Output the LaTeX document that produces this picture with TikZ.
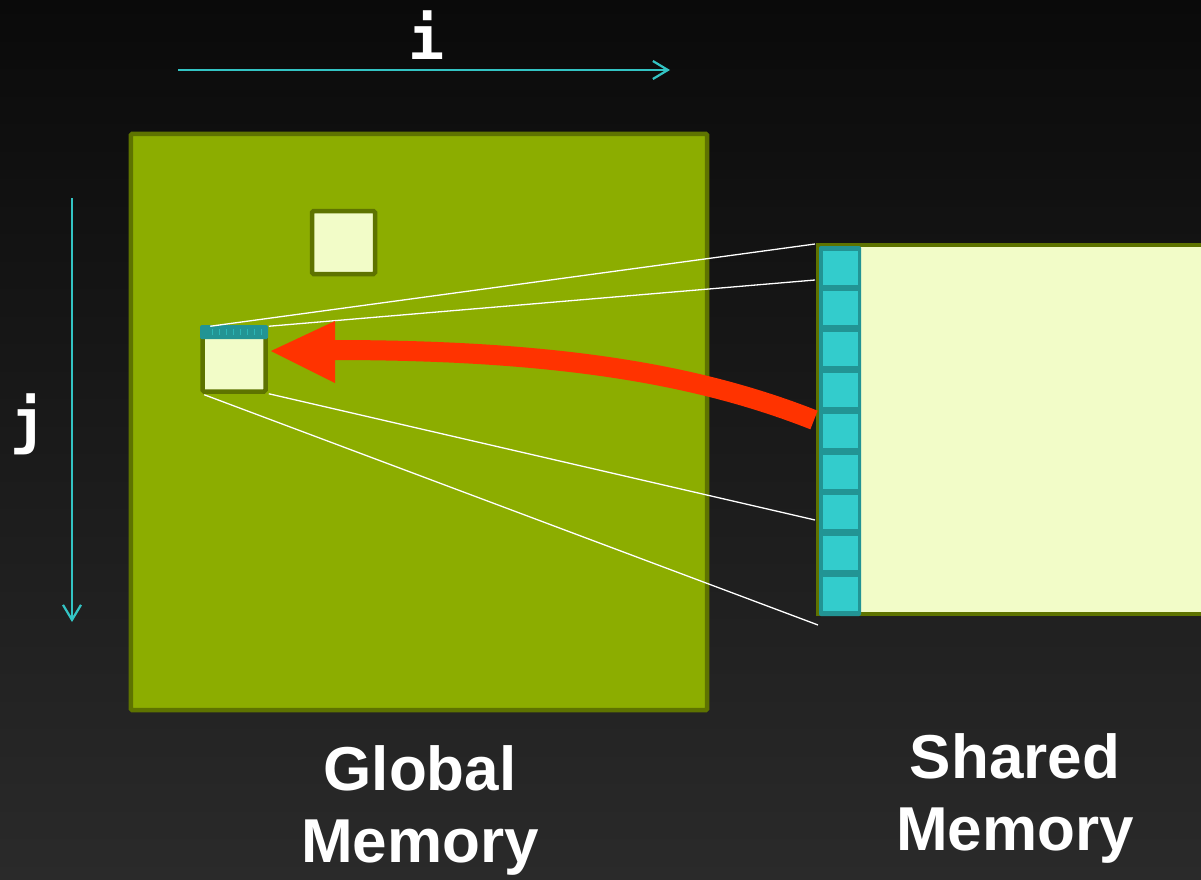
\documentclass[tikz,border=0pt]{standalone}
\usepackage{fontspec}
\setmainfont{Liberation Sans}
\newfontfamily\monob{DejaVu Sans Mono}
\usetikzlibrary{arrows.meta}
\definecolor{bgtop}{HTML}{0A0A0A}
\definecolor{bgbot}{HTML}{2A2A2A}
\definecolor{nvgreen}{HTML}{8CAD00}
\definecolor{dkgreen}{HTML}{5E7300}
\definecolor{lightyel}{HTML}{F2FCC8}
\definecolor{teal}{HTML}{33CCCC}
\definecolor{dkteal}{HTML}{229494}
\definecolor{axis}{HTML}{33C4C4}
\definecolor{redarrow}{HTML}{FF3300}
\tikzset{
  axisarrow/.style={draw=axis, line width=2.2bp, -{Straight Barb[length=15bp,width=18bp,line width=2.2bp]}},
  axislabel/.style={text=white, font=\monob\bfseries\fontsize{60bp}{64bp}\selectfont, inner sep=0},
  tile/.style={draw=dkgreen, fill=lightyel, line width=4.5bp, rounded corners=1.5bp, inner sep=0},
  cell/.style={draw=dkteal, fill=teal, line width=3bp, minimum width=38bp, minimum height=37bp, inner sep=0},
  wline/.style={draw=white, line width=1.3bp},
  biglabel/.style={text=white, font=\bfseries\fontsize{62bp}{72bp}\selectfont, align=center, inner sep=0}
}
\begin{document}
\begin{tikzpicture}[x=1bp,y=-1bp]
\useasboundingbox (0,0) rectangle (1201,880);
\shade[top color=bgtop, bottom color=bgbot] (0,0) rectangle (1201,880);

% axes
\coordinate (ia) at (178,70);
\coordinate (ib) at (670,70);
\draw[axisarrow] (ia) -- (ib);
\node[axislabel] (ilab) at (427,35) {i};
\coordinate (ja) at (72,198);
\coordinate (jb) at (72,622);
\draw[axisarrow] (ja) -- (jb);
\node[axislabel] (jlab) at (29,424) {j};

% global memory
\node[draw=dkgreen, fill=nvgreen, line width=4.5bp, minimum width=576bp, minimum height=576bp, inner sep=0, rounded corners=1bp] (global) at (419,422) {};

% tiles
\node[tile, minimum width=63bp, minimum height=63bp] (tileA) at (343.5,242.5) {};
\node[tile, minimum width=63bp, minimum height=63bp] (tileB) at (234,360) {};
\fill[dkteal, rounded corners=1.5bp] (200,325) rectangle (268,339);
\foreach \x in {212,219,...,261} \draw[teal!60!dkteal, line width=0.6bp] (\x,329) -- (\x,335);

% shared memory
\path[draw=dkgreen, fill=lightyel, line width=4.5bp] (1210,245) -- (818,245) -- (818,614) -- (1210,614);
\fill[dkteal, rounded corners=2bp] (819,246) rectangle (861,616);
\foreach \k in {0,...,8} {
  \node[cell] (c\k) at (840,{267.5+\k*40.8}) {};
}

% projection lines
\coordinate (p1) at (815,244);
\coordinate (p2) at (815,280);
\coordinate (p3) at (815,520);
\coordinate (p4) at (818,625);
\draw[wline] ([shift={(10,0)}]tileB.north west) -- (p1);
\draw[wline] ([shift={(1,0)}]tileB.north east) -- (p2);
\draw[wline] ([shift={(1,0)}]tileB.south east) -- (p3);
\draw[wline] ([shift={(4,1)}]tileB.south west) -- (p4);

% red arrow
\coordinate (rstart) at (814,420);
\coordinate (rend) at (332,350);
\draw[redarrow, line width=20bp] (rstart) .. controls (700,375) and (560,350) .. (rend);
\coordinate (tip) at (271,351);
\fill[redarrow] (tip) -- (335,321) -- (335,383) -- cycle;

% labels
\node[biglabel] (glab) at (420,810) {Global\\Memory};
\node[biglabel] (slab) at (1015,798) {Shared\\Memory};
\end{tikzpicture}
\end{document}
